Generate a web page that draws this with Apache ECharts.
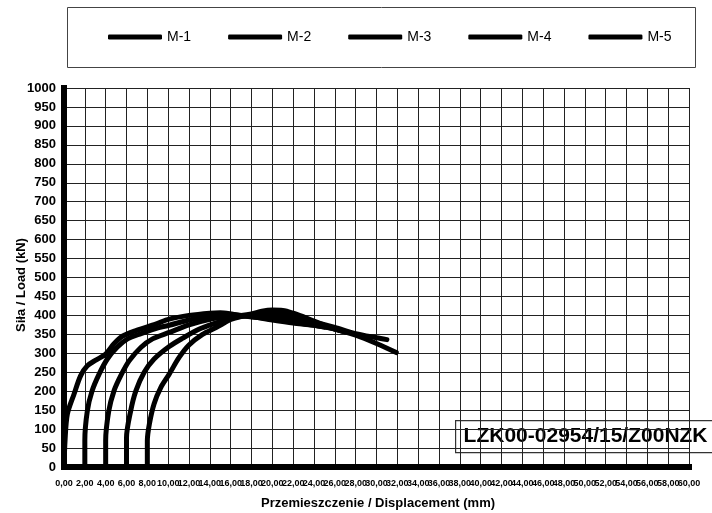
<!DOCTYPE html>
<html>
<head>
<meta charset="utf-8">
<script src="https://cdn.jsdelivr.net/npm/echarts@6/dist/echarts.min.js"></script>
<style>
  html, body { margin: 0; padding: 0; background: #fff; }
  #chart { width: 712px; height: 513px; }
</style>
</head>
<body>
<div id="chart"></div>
<script>
// Load–displacement curves for five specimens, [displacement mm, load kN]
const seriesNames = ['M-1', 'M-2', 'M-3', 'M-4', 'M-5'];

const m1 = [[0,0],[0.1,70],[0.32,139],[0.96,192],[1.6,241],[2.24,267],[3.05,282],[4.0,298],
  [4.8,325],[5.6,345],[6.9,360],[8.8,377],[10.1,390],[12,400],[14,406],[15,407],[16,404],
  [17,399],[18,396],[20,390],[22,382],[24,374],[25,369]];
const m2 = [[2,0],[2,70],[2.24,148],[2.7,201],[3.37,245],[4.16,285],[5.1,316],[6.1,338],
  [7.4,352],[9.1,368],[10.1,374],[12,388],[14,398],[16,403],[17,400],[18,397],[20,388],
  [22,380],[24,374],[26,364],[27,357]];
const m3 = [[4,0],[4,69],[4.3,148],[4.8,201],[5.45,241],[6.25,280],[7.4,316],[8.5,338],
  [10.1,355],[12,375],[14,390],[16,398],[17,400],[18,404],[19,411],[20,414],[21,413],
  [22,406],[23,396],[24,385],[25,374],[26,364],[27,357]];
const m4 = [[6,0],[6,77],[6.4,148],[6.9,201],[7.7,250],[8.65,285],[10.1,318],[11.4,340],
  [13,364],[14.6,380],[16,392],[17,398],[18,400],[20,398],[22,392],[24,382],[26,368],
  [28,352],[30,341],[31,336]];
const m5 = [[8,0],[8,69],[8.2,114],[8.65,167],[9.3,210],[10.1,245],[11.05,289],[12,322],
  [13.3,350],[14.6,368],[16,389],[17,397],[18,401],[20,406],[22,396],[24,378],[26,364],
  [28,348],[30,326],[31.9,302]];
const curves = [m1, m2, m3, m4, m5];

// Axis ranges
const xMin = 0, xMax = 60, xStep = 2;
const yMin = 0, yMax = 1000, yStep = 50;

const reportId = 'LZK00-02954/15/Z00NZK';
const xTitle = 'Przemieszczenie / Displacement (mm)';
const yTitle = 'Siła / Load (kN)';

const FONT = '"Liberation Sans", Arial, sans-serif';
const fmtMm = v => v.toFixed(2).replace('.', ',');
const xLabelStyle = {
  margin: 12, hideOverlap: false,
  fontFamily: FONT, fontSize: 9, fontWeight: 'bold', color: '#000',
  formatter: fmtMm
};

const chart = echarts.init(document.getElementById('chart'), null, { renderer: 'canvas' });

chart.setOption({
  animation: false,
  backgroundColor: '#fff',
  grid: { left: 64, right: 23, top: 88, bottom: 46, containLabel: false },
  legend: {
    data: seriesNames,
    left: 108,
    top: 30,
    itemWidth: 54,
    itemHeight: 5,
    itemGap: 37,
    icon: 'roundRect',
    textStyle: { fontFamily: FONT, fontSize: 14, color: '#000' },
    padding: 0
  },
  xAxis: [
    {
      type: 'value',
      min: xMin, max: xMax, interval: xStep,
      axisLine: { show: true, onZero: false, lineStyle: { color: '#000', width: 6, cap: 'square' } },
      axisTick: { show: false },
      // the last tick label comes from the companion axis below
      axisLabel: Object.assign({ showMinLabel: true, showMaxLabel: false }, xLabelStyle),
      splitLine: { show: true, lineStyle: { color: '#222', width: 1 } }
    },
    {
      type: 'value',
      position: 'bottom',
      min: xMin, max: xMax, interval: xMax - xMin,
      axisLine: { show: false, onZero: false },
      axisTick: { show: false },
      axisLabel: Object.assign({ showMinLabel: false, showMaxLabel: true }, xLabelStyle),
      splitLine: { show: false }
    }
  ],
  yAxis: {
    type: 'value',
    min: yMin, max: yMax, interval: yStep,
    axisLine: { show: true, onZero: false, lineStyle: { color: '#000', width: 6, cap: 'square' } },
    axisTick: { show: false },
    axisLabel: {
      margin: 8, showMinLabel: true, showMaxLabel: true,
      fontFamily: FONT, fontSize: 13, fontWeight: 'bold', color: '#000',
      formatter: v => String(v)
    },
    splitLine: { show: true, lineStyle: { color: '#222', width: 1 } }
  },
  series: seriesNames.map((name, i) => ({
    name: name,
    type: 'line',
    xAxisIndex: 0,
    data: curves[i],
    smooth: 0.3,
    showSymbol: false,
    symbol: 'none',
    color: '#000',
    lineStyle: { color: '#000', width: 5, cap: 'round', join: 'round' },
    z: 3
  })),
  graphic: [
    {
      type: 'rect', left: 67, top: 7, z: 0,
      shape: { width: 628, height: 60 },
      style: { fill: '#fff', stroke: '#444', lineWidth: 1 }
    },
    {
      type: 'text', x: 21, y: 285, rotation: Math.PI / 2,
      style: { text: yTitle, fontFamily: FONT, fontSize: 13, fontWeight: 'bold',
               fill: '#000', align: 'center', verticalAlign: 'middle' }
    },
    {
      type: 'text', x: 378, y: 503,
      style: { text: xTitle, fontFamily: FONT, fontSize: 13, fontWeight: 'bold',
               fill: '#000', align: 'center', verticalAlign: 'middle' }
    },
    {
      type: 'group', left: 455, top: 420, z: 100,
      children: [
        { type: 'rect', shape: { x: 0, y: 0, width: 262, height: 32 },
          style: { fill: '#fff', stroke: '#333', lineWidth: 1.2 } },
        { type: 'text', x: 8, y: 16,
          style: { text: reportId, fontFamily: FONT, fontSize: 21, fontWeight: 'bold',
                   fill: '#000', verticalAlign: 'middle', align: 'left' } }
      ]
    }
  ]
});
</script>
</body>
</html>
